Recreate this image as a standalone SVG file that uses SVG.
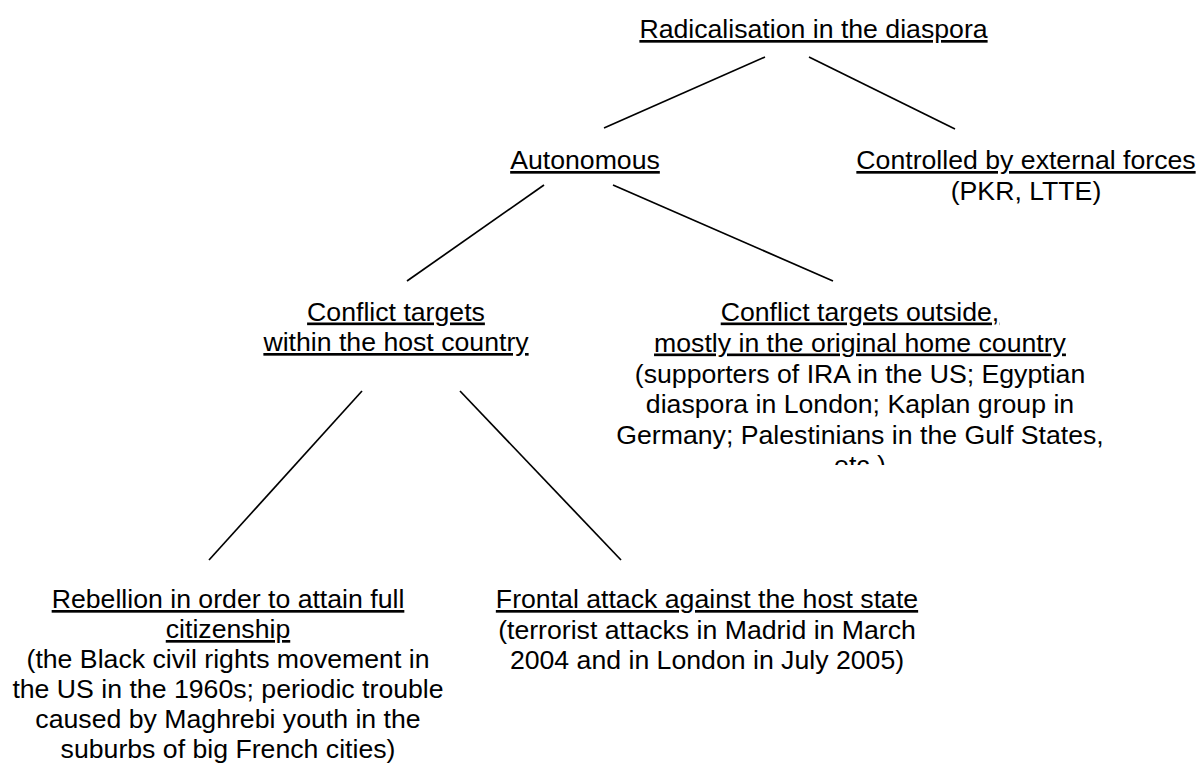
<svg xmlns="http://www.w3.org/2000/svg" width="1199" height="764" viewBox="0 0 1199 764">
<style>
text{font-family:"Liberation Sans",Arial,sans-serif;font-size:26.67px;fill:#000;text-anchor:middle}
.u{text-decoration:underline;text-decoration-thickness:2px;text-underline-offset:3px}
.c line{stroke:#000;stroke-width:1.7;fill:none}
</style>
<defs>
<clipPath id="clipR"><rect x="560" y="280" width="639" height="185"/></clipPath>
</defs>
<rect width="1199" height="764" fill="#fff"/>
<g id="connectors" class="c">
<line x1="765" y1="57" x2="604" y2="128"/>
<line x1="809" y1="57" x2="955" y2="129"/>
<line x1="544" y1="185" x2="407" y2="281"/>
<line x1="613" y1="185" x2="833" y2="281"/>
<line x1="362" y1="391" x2="209" y2="560"/>
<line x1="460" y1="391" x2="621" y2="560"/>
</g>
<g id="root"><text class="u" x="813.5" y="38">Radicalisation in the diaspora</text></g>
<g id="autonomous"><text class="u" x="585" y="169">Autonomous</text></g>
<g id="external"><text class="u" x="1026" y="169">Controlled by external forces</text><text x="1026" y="199.5">(PKR, LTTE)</text></g>
<g id="within"><text class="u" x="396" y="320.5">Conflict targets</text><text class="u" x="396" y="351">within the host country</text></g>
<g id="outside" clip-path="url(#clipR)"><text class="u" x="860" y="320.5">Conflict targets outside,</text><text class="u" x="860" y="351.5">mostly in the original home country</text><text x="860" y="382.5">(supporters of IRA in the US; Egyptian</text><text x="860" y="413">diaspora in London; Kaplan group in</text><text x="860" y="443.5">Germany; Palestinians in the Gulf States,</text><text x="860" y="474">etc.)</text></g>
<g id="rebellion"><text class="u" x="228" y="608">Rebellion in order to attain full</text><text class="u" x="228" y="638">citizenship</text><text x="228" y="668">(the Black civil rights movement in</text><text x="228" y="698">the US in the 1960s; periodic trouble</text><text x="228" y="728">caused by Maghrebi youth in the</text><text x="228" y="758">suburbs of big French cities)</text></g>
<g id="frontal"><text class="u" x="707" y="608">Frontal attack against the host state</text><text x="707" y="638.5">(terrorist attacks in Madrid in March</text><text x="707" y="669">2004 and in London in July 2005)</text></g>
</svg>
